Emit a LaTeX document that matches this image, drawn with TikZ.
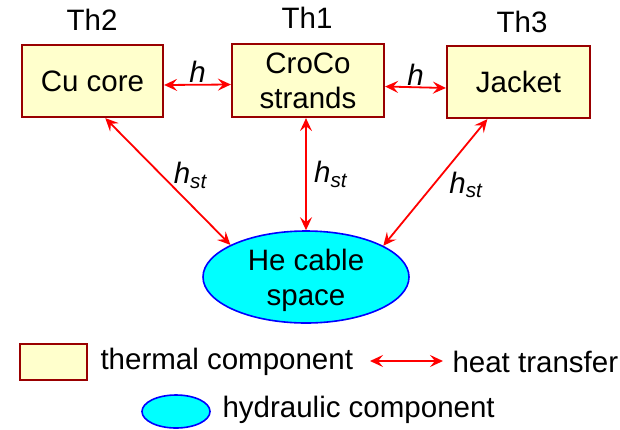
\documentclass[tikz,border=0pt]{standalone}
\usepackage{fontspec}
\setmainfont{Liberation Sans}
\usetikzlibrary{shapes.geometric,arrows.meta}
\definecolor{boxfill}{RGB}{255,255,204}
\definecolor{boxline}{RGB}{153,0,0}
\definecolor{hecyan}{RGB}{0,255,255}
\definecolor{heblue}{RGB}{0,0,255}

\begin{document}
\begin{tikzpicture}[
  therm/.style={draw=boxline,fill=boxfill,line width=2.2pt,inner sep=0pt,align=center},
  hydr/.style={ellipse,draw=heblue,fill=hecyan,line width=1.6pt,inner sep=0pt,align=center},
  heat/.style={<->,>={Stealth[length=13pt,width=12pt,inset=5pt]},red,line width=1.8pt},
  lab/.style={text=black},
  every node/.style={font=\fontsize{29.5}{35}\selectfont},
  x=1pt,y=-1pt
]
  \useasboundingbox (0,0) rectangle (620,429);
  % thermal components
  \node[therm,minimum width=141pt,minimum height=72pt] (cu) at (92.5,81) {Cu core};
  \node[therm,minimum width=152pt,minimum height=73pt] (croco) at (308,80.5) {CroCo\\strands};
  \node[therm,minimum width=143pt,minimum height=72pt] (jacket) at (518.5,82) {Jacket};
  \foreach \n/\t/\xx/\yy in {th2/Th2/92/20,th1/Th1/307/18,th3/Th3/522/22}
    \node (\n) at (\xx,\yy) {\t};
  % hydraulic component
  \node[hydr,minimum width=206pt,minimum height=92pt,text depth=0pt] (he) at (306,277) {He cable\\space};
  % heat transfer
  \draw[heat] ([yshift=-4]cu.east) -- node[lab,above=-2pt]{\itshape h} ([yshift=-4]croco.west);
  \draw[heat] ([yshift=-6]croco.east) -- node[lab,above=-2pt]{\itshape h} ([yshift=-6]jacket.west);
  \draw[heat] (cu.-71) -- node[lab,pos=.45,right=8pt]{\itshape h\textsubscript{st}} (he.157);
  \draw[heat] (he.north |- croco.south) -- node[lab,pos=.5,right=4pt]{\itshape h\textsubscript{st}} (he.north);
  \draw[heat] (jacket.-130) -- node[lab,pos=.52,right=12pt]{\itshape h\textsubscript{st}} (he.22);
  % legend
  \node[therm,minimum width=67pt,minimum height=36pt] (legbox) at (53.5,362) {};
  \node[anchor=west] (legtherm) at (97,362) {thermal component};
  \coordinate (la) at (370,361);
  \coordinate (lb) at (443,361);
  \draw[heat] (la) -- (lb);
  \node[anchor=west] (legheat) at (449,362) {heat transfer};
  \node[hydr,minimum width=68pt,minimum height=33pt] (legell) at (176,411.5) {};
  \node[anchor=west] (leghydr) at (219,410) {hydraulic component};
\end{tikzpicture}
\end{document}
